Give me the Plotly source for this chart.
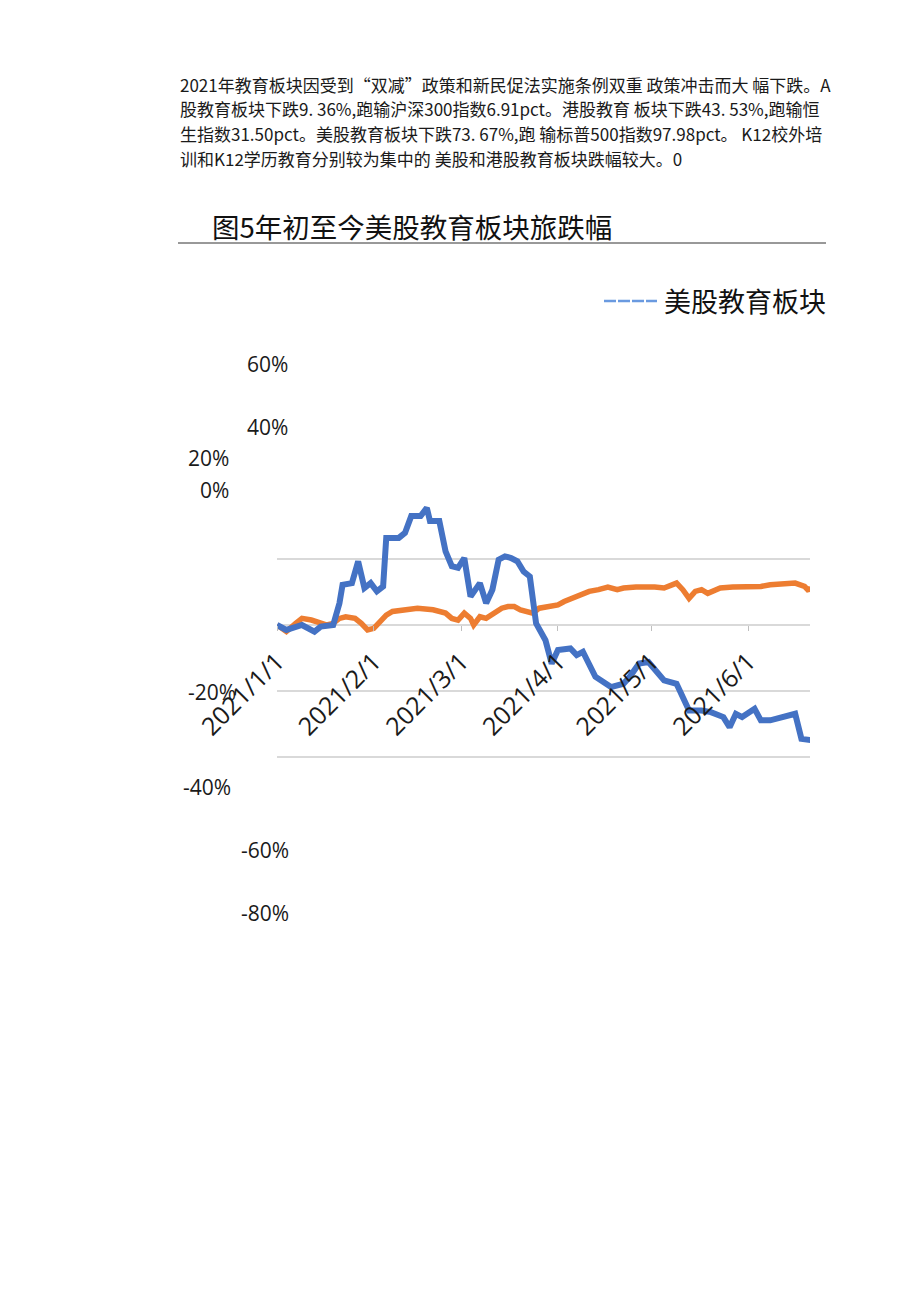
import plotly.graph_objects as go

# 美股教育板块 (蓝线) 与 标普500 (橙线) 年初至今涨跌幅, 单位 %
dates_edu = ["2021-01-01", "2021-01-04", "2021-01-09", "2021-01-13", "2021-01-15",
             "2021-01-19", "2021-01-21", "2021-01-22", "2021-01-25", "2021-01-27",
             "2021-01-29", "2021-01-31", "2021-02-02", "2021-02-04", "2021-02-05",
             "2021-02-09", "2021-02-11", "2021-02-13", "2021-02-16", "2021-02-18",
             "2021-02-19", "2021-02-22", "2021-02-24", "2021-02-26", "2021-02-28",
             "2021-03-02", "2021-03-04", "2021-03-07", "2021-03-09", "2021-03-11",
             "2021-03-13", "2021-03-15", "2021-03-17", "2021-03-19", "2021-03-21",
             "2021-03-23", "2021-03-25", "2021-03-28", "2021-03-30", "2021-04-01",
             "2021-04-05", "2021-04-07", "2021-04-09", "2021-04-11", "2021-04-13",
             "2021-04-18", "2021-04-22", "2021-04-24", "2021-04-27", "2021-04-30",
             "2021-05-02", "2021-05-05", "2021-05-09", "2021-05-11", "2021-05-13",
             "2021-05-17", "2021-05-20", "2021-05-24", "2021-05-26", "2021-05-28",
             "2021-05-30", "2021-06-03", "2021-06-05", "2021-06-08", "2021-06-12",
             "2021-06-16", "2021-06-18", "2021-06-22"]
edu_pct = [0, -1.5, 0, -2.0, -0.5,
           0, 6.6, 12.2, 12.7, 19.3,
           11.2, 12.7, 10.2, 11.7, 26.4,
           26.4, 27.9, 33.0, 33.0, 35.5,
           31.5, 31.5, 22.3, 17.8, 17.3,
           20.3, 8.6, 12.7, 6.6, 10.7,
           19.8, 20.8, 20.3, 19.3, 16.2,
           14.7, 0.5, -4.6, -11.7, -7.6,
           -7.1, -9.1, -8.1, -11.7, -15.7,
           -18.8, -17.8, -15.7, -11.7, -11.2,
           -13.7, -16.8, -17.8, -21.8, -25.9,
           -25.9, -26.4, -27.9, -31.0, -26.9,
           -27.9, -25.4, -28.9, -28.9, -27.9,
           -26.9, -34.5, -35.0]

dates_spx = ["2021-01-01", "2021-01-04", "2021-01-07", "2021-01-09", "2021-01-12",
             "2021-01-14", "2021-01-17", "2021-01-19", "2021-01-21", "2021-01-23",
             "2021-01-26", "2021-01-28", "2021-01-30", "2021-02-01", "2021-02-03",
             "2021-02-05", "2021-02-07", "2021-02-11", "2021-02-15", "2021-02-20",
             "2021-02-24", "2021-02-26", "2021-02-28", "2021-03-02", "2021-03-04",
             "2021-03-05", "2021-03-07", "2021-03-09", "2021-03-12", "2021-03-14",
             "2021-03-16", "2021-03-18", "2021-03-20", "2021-03-22", "2021-03-24",
             "2021-03-26", "2021-03-29", "2021-04-01", "2021-04-03", "2021-04-06",
             "2021-04-09", "2021-04-11", "2021-04-14", "2021-04-17", "2021-04-20",
             "2021-04-22", "2021-04-26", "2021-04-29", "2021-05-02", "2021-05-05",
             "2021-05-08", "2021-05-09", "2021-05-11", "2021-05-13", "2021-05-15",
             "2021-05-17", "2021-05-19", "2021-05-21", "2021-05-23", "2021-05-27",
             "2021-05-30", "2021-06-03", "2021-06-05", "2021-06-08", "2021-06-11",
             "2021-06-14", "2021-06-16", "2021-06-19", "2021-06-20", "2021-06-22"]
spx_pct = [0, -2.0, 0.5, 2.0, 1.5,
           1.0, 0, 0.5, 2.0, 2.5,
           2.0, 0.5, -1.5, -1.0, 1.0,
           3.0, 4.1, 4.6, 5.1, 4.6,
           3.6, 2.0, 1.5, 3.6, 2.0,
           0, 2.5, 2.0, 3.6, 5.1,
           5.6, 5.6, 4.6, 4.1, 3.6,
           5.1, 5.6, 6.1, 7.1, 8.1,
           9.1, 10.2, 10.7, 11.5, 10.7,
           11.2, 11.5, 11.7, 11.5, 11.2,
           12.2, 12.7, 10.7, 8.1, 10.2,
           10.7, 9.6, 10.2, 11.2, 11.5,
           11.5, 11.7, 11.7, 12.2, 12.5,
           12.9, 12.7, 11.7, 10.7, 11.2]

month_ticks = ["2021-01-01", "2021-02-01", "2021-03-01", "2021-04-01",
               "2021-05-01", "2021-06-01"]
month_labels = ["2021/1/1", "2021/2/1", "2021/3/1", "2021/4/1",
                "2021/5/1", "2021/6/1"]
grid_vals = [-40, -20, 0, 20]

# 错位的纵轴标签 (原文档中的位置)
stray_labels = ["60%", "40%", "20%", "0%", "-20%", "-40%", "-60%", "-80%"]

paragraph = [
    "2021年教育板块因受到“双减”政策和新民促法实施条例双重 政策冲击而大 幅下跌。A",
    "股教育板块下跌9. 36%,跑输沪深300指数6.91pct。港股教育 板块下跌43. 53%,跑输恒",
    "生指数31.50pct。美股教育板块下跌73. 67%,跑 输标普500指数97.98pct。 K12校外培",
    "训和K12学历教育分别较为集中的 美股和港股教育板块跌幅较大。0",
]
title_text = "图5年初至今美股教育板块旅跌幅"
legend_text = "美股教育板块"

W, H = 920, 1301
OFF = 8  # 页面 body 的默认边距


def px(x):
    return (x - OFF) / W


def py(y):
    return 1 - (y - OFF) / H


fig = go.Figure()
fig.add_trace(go.Scatter(x=dates_spx, y=spx_pct, mode="lines",
                         line=dict(color="#ED7D31", width=5.5), showlegend=False))
fig.add_trace(go.Scatter(x=dates_edu, y=edu_pct, mode="lines",
                         line=dict(color="#4472C4", width=6), showlegend=False))

cjk = "Noto Sans CJK SC"
ann = []
for i, line in enumerate(paragraph):
    ann.append(dict(x=px(178), y=py(84 + i * 24.7), xref="paper", yref="paper",
                    text=line, showarrow=False, xanchor="left", yanchor="middle",
                    font=dict(family=cjk, size=17, color="#1a1a1a")))

ann.append(dict(x=px(210), y=py(226), xref="paper", yref="paper", text=title_text,
                showarrow=False, xanchor="left", yanchor="middle",
                font=dict(family=cjk, size=27.5, color="#111111")))
ann.append(dict(x=px(662), y=py(301), xref="paper", yref="paper", text=legend_text,
                showarrow=False, xanchor="left", yanchor="middle",
                font=dict(family=cjk, size=27, color="#111111")))

# 错位标签的位置 (右对齐的 x, 中心 y)
stray_pos = [(290, 364), (290, 427), (231, 458), (231, 490),
             (238, 692), (233, 787), (291, 850), (291, 913)]
for lab, (sx, sy) in zip(stray_labels, stray_pos):
    ann.append(dict(x=px(sx), y=py(sy), xref="paper", yref="paper", text=lab,
                    showarrow=False, xanchor="right", yanchor="middle",
                    font=dict(family="Open Sans", size=21, color="#1a1a1a")))

shapes = [
    dict(type="line", xref="paper", yref="paper", x0=px(178), x1=px(826),
         y0=py(243), y1=py(243), line=dict(color="#333333", width=1)),
    dict(type="line", xref="paper", yref="paper", x0=px(604), x1=px(657),
         y0=py(301), y1=py(301), line=dict(color="#6a9ae0", width=2.5, dash="12px,2px")),
]

fig.update_layout(
    width=W, height=H,
    margin=dict(l=0, r=0, t=0, b=0, pad=0),
    paper_bgcolor="white", plot_bgcolor="white",
    showlegend=False,
    annotations=ann, shapes=shapes,
    xaxis=dict(
        type="date", domain=[px(277), px(810)],
        range=["2021-01-01", "2021-06-20 18:00"],
        tickvals=month_ticks, ticktext=month_labels, tickangle=-45,
        ticks="outside", ticklen=5, tickcolor="#bfbfbf", tickwidth=1,
        ticklabelstandoff=6, automargin=False,
        tickfont=dict(family="Open Sans", size=25, color="#1a1a1a"),
        showgrid=False, showline=False, zeroline=False,
        anchor="free", position=py(625),
    ),
    yaxis=dict(
        domain=[py(773.5), py(493)], range=[-45, 40],
        tickvals=grid_vals, showticklabels=False, automargin=False,
        showgrid=True, gridcolor="#d9d9d9", gridwidth=2,
        zeroline=False, showline=False,
    ),
)

fig.write_html("out.html")
